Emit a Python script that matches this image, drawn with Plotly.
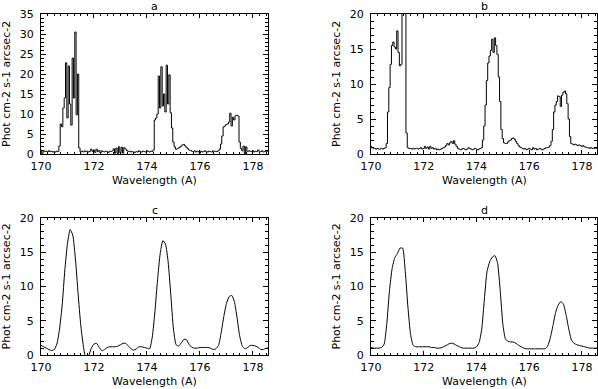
import numpy as np
import plotly.graph_objects as go
from plotly.subplots import make_subplots

# wavelength grids (Angstrom)
wave_hist = np.round(np.arange(170.0, 178.6001, 0.05), 2)
wave_fit = np.round(np.arange(170.0, 178.6001, 0.1), 1)

# a: raw spectrum (histogram style)
spec_a = [
    1.0, 0.1, 0.8, 0.6, 0.7, 0.5, 0.8, 0.6, 0.7, 0.5,
    0.6, 0.5, 0.7, 0.6, 2.0, 7.5, 6.8, 11.5, 14.0, 22.8,
    9.0, 22.0, 12.5, 7.2, 24.0, 14.0, 30.5, 9.8, 20.0, 1.5,
    0.5, 0.7, 0.5, 0.8, 0.6, 0.7, 0.5, 0.7, 1.2, 0.6,
    1.0, 0.4, 1.2, 0.6, 0.9, 0.3, 0.8, 0.6, 0.5, 0.7,
    0.6, 0.4, 0.7, 0.6, 0.8, 1.3, 0.2, 1.5, 0.1, 1.8,
    0.3, 1.7, 0.2, 1.6, 1.2, 0.9, 0.6, 0.7, 0.5, 0.6,
    0.5, 0.4, 0.6, 0.5, 0.8, 0.6, 0.5, 0.7, 0.6, 0.5,
    0.8, 0.6, 0.5, 0.7, 0.6, 1.0, 8.5, 9.0, 10.0, 19.5,
    11.5, 21.8, 12.0, 15.0, 10.5, 22.2, 12.5, 19.8, 10.3, 6.5,
    3.0, 1.8, 1.2, 1.3, 1.5, 1.7, 2.0, 2.3, 2.4, 2.0,
    1.6, 1.3, 1.0, 0.9, 0.7, 0.6, 0.8, 0.5, 0.7, 0.6,
    0.2, 0.7, 0.5, 0.6, 0.8, 0.6, 0.5, 0.7, 0.6, 0.5,
    0.8, 0.6, 0.7, 0.6, 0.8, 1.2, 2.5, 4.5, 6.8, 7.0,
    7.4, 7.5, 8.0, 10.2, 7.0, 9.2, 8.5, 9.6, 9.7, 9.5,
    3.0, 1.4, 0.8, 2.0, 0.1, 1.8, 0.6, 0.8, 0.7, 0.6,
    0.8, 0.5, 0.7, 0.6, 1.0, 0.7, 0.6, 0.8, 0.5, 0.6,
    0.7, 0.6, 0.7,
]

# b: (histogram style)
spec_b = [
    1.1, 0.9, 0.8, 0.8, 0.7, 0.8, 0.7, 0.7, 0.8, 0.7,
    0.8, 0.9, 1.5, 6.0, 9.5, 12.8, 15.5, 16.0, 15.3, 15.0,
    17.6, 14.5, 12.6, 12.8, 24.0, 30.0, 26.0, 3.0, 0.9, 0.8,
    0.8, 0.7, 0.8, 0.7, 0.8, 0.8, 0.7, 0.8, 0.9, 0.7,
    0.8, 1.1, 0.8, 1.0, 0.7, 1.1, 0.8, 0.9, 0.7, 0.8,
    0.6, 0.7, 0.6, 0.7, 0.8, 0.9, 1.0, 1.2, 1.5, 1.3,
    1.6, 1.8, 1.5, 1.9, 1.4, 1.1, 0.8, 0.7, 0.6, 0.7,
    0.8, 0.7, 0.6, 0.7, 0.9, 0.8, 0.7, 0.6, 0.7, 0.8,
    0.7, 0.6, 0.7, 0.8, 0.9, 2.0, 4.0, 7.0, 10.5, 13.0,
    14.0, 14.8, 16.4, 14.5, 16.6, 15.5, 14.2, 11.0, 7.5, 3.5,
    2.2, 1.6, 1.5, 1.5, 1.7, 1.9, 2.0, 2.2, 2.3, 2.1,
    1.8, 1.5, 1.2, 1.0, 0.9, 0.8, 0.7, 0.8, 0.6, 0.7,
    0.8, 0.7, 0.6, 0.9, 0.7, 0.8, 0.6, 0.7, 0.8, 0.7,
    0.6, 0.7, 0.8, 0.9, 0.9, 1.0, 1.2, 1.8, 3.5, 6.0,
    7.0, 7.5, 8.3, 8.2, 6.8, 8.4, 8.8, 9.0, 8.6, 7.2,
    5.0, 2.5, 1.5, 1.4, 1.3, 1.4, 1.3, 1.2, 1.3, 1.2,
    1.1, 1.2, 1.0, 1.0, 0.9, 0.9, 0.8, 0.9, 0.8, 0.8,
    0.8, 0.8, 0.8,
]

# c: smooth spectrum
spec_c = [
    1.4, 1.2, 1.0, 0.8, 0.65, 0.8, 1.6, 3.8, 7.3, 12.4,
    16.3, 18.3, 17.5, 14.0, 9.0, 4.4, 1.3, -0.6, -0.1, 1.0,
    1.6, 1.7, 1.1, 0.6, 0.8, 1.1, 1.2, 1.2, 1.2, 1.3,
    1.5, 1.7, 1.7, 1.3, 0.9, 0.7, 0.9, 1.2, 1.2, 1.1,
    1.0, 0.9, 2.6, 6.3, 11.0, 14.8, 16.7, 16.2, 13.6, 8.8,
    3.8, 1.5, 1.3, 1.8, 2.3, 2.2, 1.5, 1.1, 1.0, 1.0,
    1.1, 1.1, 1.1, 1.1, 1.0, 0.8, 0.9, 1.4, 3.2, 5.6,
    7.5, 8.5, 8.7, 7.8, 5.5, 2.8, 1.3, 0.9, 1.1, 1.4,
    1.4, 1.3, 1.1, 0.8, 0.8, 1.0, 1.0,
]

# d: smooth spectrum
spec_d = [
    1.1, 1.0, 1.0, 1.0, 1.1, 1.6, 4.6, 9.4, 12.6, 14.2,
    14.8, 15.6, 15.6, 12.2, 7.0, 3.0, 1.4, 1.2, 1.2, 1.2,
    1.2, 1.2, 1.2, 1.1, 1.1, 1.0, 1.0, 1.1, 1.3, 1.5,
    1.7, 1.7, 1.5, 1.3, 1.1, 1.0, 1.0, 1.0, 1.0, 1.0,
    1.2, 1.8, 3.8, 8.2, 12.2, 13.6, 14.3, 14.5, 13.4, 9.4,
    4.5, 2.3, 2.0, 1.9, 1.9, 1.7, 1.4, 1.2, 1.0, 0.9,
    0.9, 0.9, 0.9, 0.9, 0.9, 0.9, 0.9, 1.3, 2.5, 4.3,
    6.2, 7.3, 7.8, 7.4, 5.8, 3.8, 2.2, 1.7, 1.5, 1.4,
    1.3, 1.2, 1.1, 1.0, 1.0, 1.0, 1.0,
]

panel_names = ['a', 'b', 'c', 'd']
x_ticks = [170, 172, 174, 176, 178]
y_tops = [35, 20, 20, 20]
y_title = 'Phot cm-2 s-1 arcsec-2'
x_title = 'Wavelength (A)'

W, H = 598, 389
# plot boxes in pixels: left, right, top, bottom
boxes = [(41, 268, 14, 154), (371, 597, 14, 154),
         (41, 268, 218, 355), (371, 597, 218, 355)]
font = dict(family='DejaVu Sans', size=11, color='black')

fig = make_subplots(rows=2, cols=2)
series = [(wave_hist, spec_a, 'hvh'), (wave_hist, spec_b, 'hvh'),
          (wave_fit, spec_c, 'spline'), (wave_fit, spec_d, 'spline')]
for i, (wx, wy, shape) in enumerate(series):
    fig.add_trace(go.Scatter(x=wx, y=wy, mode='lines',
                             line=dict(color='black', width=1, shape=shape,
                                       smoothing=0.5 if shape == 'spline' else None),
                             showlegend=False, hoverinfo='skip'),
                  row=i // 2 + 1, col=i % 2 + 1)

annotations = []
for i, (l, r, t, b) in enumerate(boxes):
    sfx = '' if i == 0 else str(i + 1)
    fig.layout['xaxis' + sfx].update(
        domain=[l / W, r / W], range=[170, 178.57], tickvals=x_ticks,
        ticks='inside', ticklen=4, mirror='ticks', showline=True,
        linecolor='black', linewidth=1, showgrid=False, zeroline=False,
        tickfont=font, ticklabelstandoff=2, automargin=False,
        minor=dict(dtick=0.25, ticks='inside', ticklen=2, tickcolor='black', showgrid=False),
        tickcolor='black')
    fig.layout['yaxis' + sfx].update(
        domain=[1 - b / H, 1 - t / H], range=[0, y_tops[i]], dtick=5,
        ticks='inside', ticklen=5, mirror='ticks', showline=True,
        linecolor='black', linewidth=1, showgrid=False, zeroline=False,
        tickfont=font, ticklabelstandoff=4, automargin=False,
        minor=dict(dtick=1, ticks='inside', ticklen=3, tickcolor='black', showgrid=False),
        tickcolor='black')
    cx = (l + r) / 2 / W
    annotations.append(dict(text=panel_names[i], x=cx, y=1 - (t - 8) / H,
                            xref='paper', yref='paper', showarrow=False,
                            xanchor='center', yanchor='middle', font=font))
    annotations.append(dict(text=x_title, x=cx, y=1 - (b + 26) / H,
                            xref='paper', yref='paper', showarrow=False,
                            xanchor='center', yanchor='middle', font=font))
    annotations.append(dict(text=y_title, x=(l - 35) / W, y=1 - (t + b) / 2 / H,
                            xref='paper', yref='paper', showarrow=False, textangle=-90,
                            xanchor='center', yanchor='middle', font=font))

fig.update_layout(width=W, height=H, margin=dict(l=0, r=0, t=0, b=0),
                  paper_bgcolor='white', plot_bgcolor='white',
                  annotations=annotations, font=font)
# drop the default page margin so the figure fills the window
fig.write_html("out.html", config={'displayModeBar': False},
               post_script="document.body.style.margin='0';")
